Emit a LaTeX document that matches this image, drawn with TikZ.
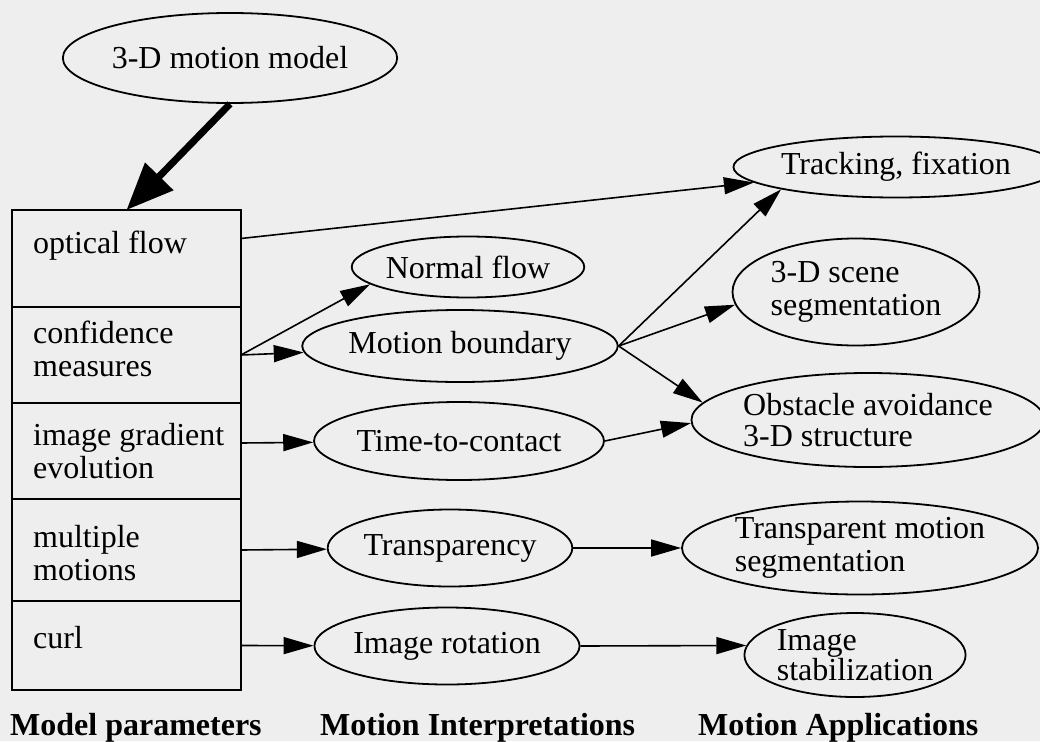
\documentclass[tikz,border=0pt]{standalone}
\usepackage{fontspec}
\setmainfont{Liberation Serif}
\usetikzlibrary{positioning,arrows.meta,shapes.geometric}
\definecolor{bg}{RGB}{238,238,238}

\begin{document}
\begin{tikzpicture}[
  x=1pt, y=-1pt,
  font=\fontsize{32}{33}\selectfont,
  oval/.style={draw, ellipse, line width=1.8pt, inner sep=0pt, align=left},
  row/.style={draw, rectangle, line width=1.8pt, minimum width=229pt, inner sep=0pt, outer sep=0pt},
  rowtext/.style={anchor=base west, align=left, inner sep=0pt},
  heading/.style={anchor=base west, inner sep=0pt, font=\fontsize{32}{33}\selectfont\bfseries},
  arr/.style={-{Triangle[length=30pt,width=17pt]}, line width=1.6pt},
  bigarr/.style={-{Triangle[length=47pt,width=38pt]}, line width=7pt}
]
\useasboundingbox (0,0) rectangle (1040,741);
\fill[bg] (0,0) rectangle (1040,741);

% nodes
\node[oval, minimum width=290pt, minimum height=90pt] (model) at (230,58) {3-D motion model};

\node[row, minimum height=97pt, anchor=north west] (r1) at (12,210) {};
\node[row, minimum height=96pt, below=0pt of r1] (r2) {};
\node[row, minimum height=96pt, below=0pt of r2] (r3) {};
\node[row, minimum height=102pt, below=0pt of r3] (r4) {};
\node[row, minimum height=89pt, below=0pt of r4] (r5) {};

% row texts (base = last line)
\node[rowtext] (topt) at (33,253) {optical flow};
\node[rowtext] (tconf) at (33,376) {confidence\\measures};
\node[rowtext] (tgrad) at (33,478) {image gradient\\evolution};
\node[rowtext] (tmult) at (33,580) {multiple\\motions};
\node[rowtext] (tcurl) at (33,648) {curl};

\node[oval, minimum width=207pt, minimum height=61pt] (normal) at (468,267) {Normal flow};
\node[oval, minimum width=265pt, minimum height=72pt] (boundary) at (460,346) {Motion boundary};
\node[oval, minimum width=266pt, minimum height=78pt] (contact) at (459,441) {Time-to-contact};
\node[oval, minimum width=240pt, minimum height=77pt] (transp) at (450,548) {Transparency};
\node[oval, minimum width=240pt, minimum height=77pt] (irot) at (447,646) {Image rotation};

\node[oval, minimum width=285pt, minimum height=61pt] (track) at (896,167) {Tracking, fixation};
\node[oval, minimum width=247pt, minimum height=107pt] (scene) at (856,292) {3-D scene\\segmentation};
\node[oval, minimum width=337pt, minimum height=94pt, font=\fontsize{32}{31}\selectfont] (obst) at (868,420) {Obstacle avoidance\\3-D structure};
\node[oval, minimum width=356pt, minimum height=93pt] (tmseg) at (860,548) {Transparent motion\\segmentation};
\node[oval, minimum width=216pt, minimum height=84pt, font=\fontsize{32}{26}\selectfont] (istab) at (855,655) {Image\\stabilization};

\node[heading] (hpar) at (10,735) {Model parameters};
\node[heading] (hint) at (320,735) {Motion Interpretations};
\node[heading] (happ) at (698,735) {Motion Applications};

% arrows
\draw[bigarr] (model.south) -- (r1.north);
\draw[arr] ([yshift=20pt]r1.east) -- (track);
\draw[arr] (r2.east) -- (normal.190);
\draw[arr] (r2.east) -- (boundary);
\draw[arr] ([yshift=8pt]r3.east) -- (contact);
\draw[arr] (r4.east) -- (transp);
\draw[arr] (r5.east) -- (irot);
\draw[arr] (boundary.east) -- (track.191);
\draw[arr] (boundary.east) -- (scene.186);
\draw[arr] (boundary.east) -- (obst.174);
\draw[arr] (contact.east) -- (obst.181);
\draw[arr] (transp) -- (tmseg);
\draw[arr] (irot.east) -- (istab.175);

\end{tikzpicture}
\end{document}
